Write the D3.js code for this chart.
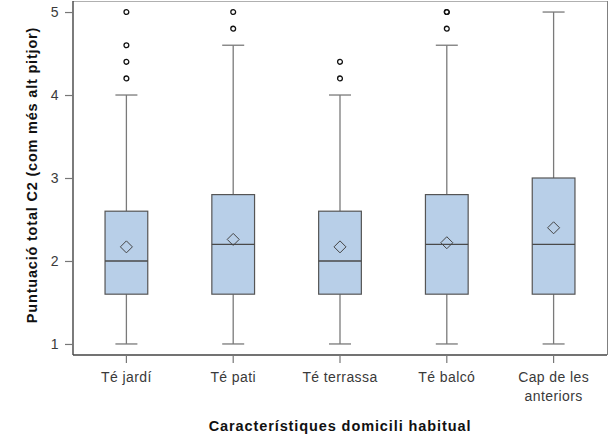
<!DOCTYPE html>
<html>
<head>
<meta charset="utf-8">
<script src="https://cdn.jsdelivr.net/npm/d3@7"></script>
<style>
  body { margin: 0; background: #fff; }
  text { font-family: "Liberation Sans", Arial, sans-serif; }
</style>
</head>
<body>
<svg id="chart" width="616" height="446"></svg>
<script>
// data
var categories = ["Té jardí", "Té pati", "Té terrassa", "Té balcó", "Cap de les anteriors"];
var q1 = [1.6, 1.6, 1.6, 1.6, 1.6];
var medians = [2.0, 2.2, 2.0, 2.2, 2.2];
var q3 = [2.6, 2.8, 2.6, 2.8, 3.0];
var means = [2.17, 2.26, 2.17, 2.22, 2.40];
var whiskerLow = [1, 1, 1, 1, 1];
var whiskerHigh = [4.0, 4.6, 4.0, 4.6, 5.0];
var outliers = [[4.2, 4.4, 4.6, 5.0], [4.8, 5.0], [4.2, 4.4], [4.8, 5.0, 5.0], []];
var yTicks = [1, 2, 3, 4, 5];

var svg = d3.select("#chart");
var plotL = 73, plotR = 607, plotT = 1, plotB = 355;

var x = d3.scaleBand().domain(categories).range([plotL, plotR]);
var y = d3.scaleLinear().domain([0.867, 5.133]).range([plotB, plotT]);
var boxW = x.bandwidth() * 0.4;

// frame (top / right lighter)
svg.append("line").attr("x1", plotL).attr("x2", plotR).attr("y1", plotT + 0.5).attr("y2", plotT + 0.5)
   .attr("stroke", "#b0b0b0");
svg.append("line").attr("x1", plotR + 0.5).attr("x2", plotR + 0.5).attr("y1", plotT).attr("y2", plotB)
   .attr("stroke", "#808080");

var data = categories.map(function(c, i){
    return {cat: c, q1: q1[i], med: medians[i], q3: q3[i], mean: means[i],
            lo: whiskerLow[i], hi: whiskerHigh[i], out: outliers[i]};
});

var g = svg.selectAll(".box").data(data).enter().append("g")
    .attr("class", "box")
    .attr("transform", function(d){ return "translate(" + (x(d.cat) + x.bandwidth() / 2) + ",0)"; });

// whiskers
g.append("line").attr("x1", 0).attr("x2", 0)
    .attr("y1", function(d){ return y(d.lo); }).attr("y2", function(d){ return y(d.q1); })
    .attr("stroke", "#7a7a7a").attr("stroke-width", 1.3);
g.append("line").attr("x1", 0).attr("x2", 0)
    .attr("y1", function(d){ return y(d.q3); }).attr("y2", function(d){ return y(d.hi); })
    .attr("stroke", "#7a7a7a").attr("stroke-width", 1.3);
g.append("line").attr("x1", -11).attr("x2", 11)
    .attr("y1", function(d){ return y(d.lo); }).attr("y2", function(d){ return y(d.lo); })
    .attr("stroke", "#7a7a7a").attr("stroke-width", 1.3);
g.append("line").attr("x1", -11).attr("x2", 11)
    .attr("y1", function(d){ return y(d.hi); }).attr("y2", function(d){ return y(d.hi); })
    .attr("stroke", "#7a7a7a").attr("stroke-width", 1.3);

// box
g.append("rect")
    .attr("x", -boxW / 2).attr("width", boxW)
    .attr("y", function(d){ return y(d.q3); })
    .attr("height", function(d){ return y(d.q1) - y(d.q3); })
    .attr("fill", "#b8cfe8").attr("stroke", "#555").attr("stroke-width", 1.2);

// median
g.append("line").attr("x1", -boxW / 2).attr("x2", boxW / 2)
    .attr("y1", function(d){ return y(d.med); }).attr("y2", function(d){ return y(d.med); })
    .attr("stroke", "#4a4a4a").attr("stroke-width", 1.3);

// mean diamond
g.append("path")
    .attr("d", function(d){
        var cy = y(d.mean), s = 6;
        return "M0," + (cy - s) + "L" + s + "," + cy + "L0," + (cy + s) + "L" + (-s) + "," + cy + "Z";
    })
    .attr("fill", "none").attr("stroke", "#444").attr("stroke-width", 1);

// outliers
g.selectAll(".out").data(function(d){ return d.out; }).enter().append("circle")
    .attr("class", "out")
    .attr("cx", 0).attr("cy", function(v){ return y(v); }).attr("r", 2.4)
    .attr("fill", "none").attr("stroke", "#111").attr("stroke-width", 1.3);

// axes
var yAxis = svg.append("g").attr("transform", "translate(" + plotL + ",0)")
    .call(d3.axisLeft(y).tickValues(yTicks).tickSize(8).tickPadding(6).tickFormat(d3.format("d")));
var xAxis = svg.append("g").attr("transform", "translate(0," + plotB + ")")
    .call(d3.axisBottom(x).tickSize(8).tickPadding(9));

[yAxis, xAxis].forEach(function(a){
    a.select(".domain").attr("stroke", "#444").attr("stroke-width", 1.4);
    a.selectAll(".tick line").attr("stroke", "#777").attr("stroke-width", 1.2);
    a.selectAll(".tick text").attr("fill", "#3a3a3a").style("font-size", "14px")
        .style("letter-spacing", "0.4px")
        .style("font-family", "'Liberation Sans', Arial, sans-serif");
});
xAxis.select(".domain").attr("d", "M" + plotL + ",0H" + plotR);
yAxis.select(".domain").attr("d", "M0," + plotT + "V" + plotB);

// wrap long label
xAxis.selectAll(".tick text").each(function(d){
    if (d === "Cap de les anteriors") {
        var t = d3.select(this);
        t.text(null);
        t.append("tspan").attr("x", 0).attr("dy", "0.71em").text("Cap de les");
        t.append("tspan").attr("x", 0).attr("dy", "1.35em").text("anteriors");
        t.attr("dy", null);
    }
});

// titles
svg.append("text")
    .attr("x", (plotL + plotR) / 2).attr("y", 431)
    .attr("text-anchor", "middle")
    .style("font-size", "14.5px").style("font-weight", "bold").attr("fill", "#111")
    .style("letter-spacing", "0.9px")
    .text("Característiques domicili habitual");

svg.append("text")
    .attr("transform", "translate(37,175) rotate(-90)")
    .attr("text-anchor", "middle")
    .style("font-size", "14.5px").style("font-weight", "bold").attr("fill", "#111")
    .style("letter-spacing", "0.8px")
    .text("Puntuació total C2 (com més alt pitjor)");
</script>
</body>
</html>
